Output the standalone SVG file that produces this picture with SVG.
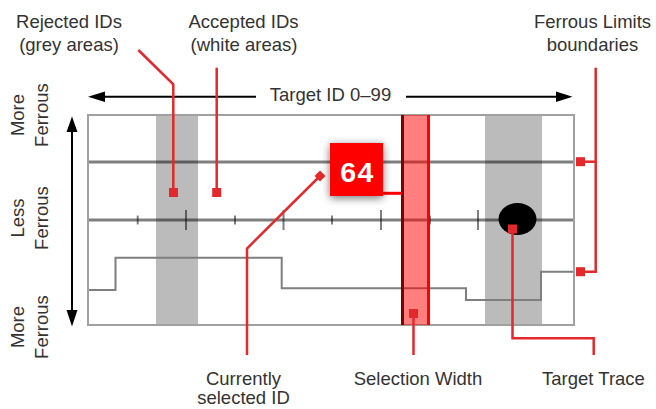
<svg xmlns="http://www.w3.org/2000/svg" width="656" height="409" viewBox="0 0 656 409">
<defs>
<style>
.lbl{font-family:"Liberation Sans",Arial,sans-serif;font-size:18.5px;fill:#333;text-anchor:middle}
.con{fill:none;stroke:#e3292b;stroke-width:2.5}
.sq{fill:#e3292b}
.ax{stroke:#000;stroke-opacity:0.5;stroke-width:3}
.tk{stroke:#000;stroke-opacity:0.5;stroke-width:2}
</style>
<filter id="sh" x="-50%" y="-50%" width="200%" height="200%">
<feDropShadow dx="0" dy="2" stdDeviation="4" flood-color="#000" flood-opacity="0.55"/>
</filter>
<filter id="soft" x="-20%" y="-20%" width="140%" height="140%">
<feGaussianBlur stdDeviation="0.7"/>
</filter>
</defs>

<g id="labels-top">
<text class="lbl" x="69" y="28">Rejected IDs</text>
<text class="lbl" x="69" y="51">(grey areas)</text>
<text class="lbl" x="243.5" y="28">Accepted IDs</text>
<text class="lbl" x="244" y="51">(white areas)</text>
<text class="lbl" x="592.5" y="28">Ferrous Limits</text>
<text class="lbl" x="592.5" y="51">boundaries</text>
</g>

<g id="target-id-axis">
<text class="lbl" x="330.5" y="101">Target ID 0–99</text>
<line x1="103" y1="96.7" x2="256" y2="96.7" stroke="#000" stroke-width="2"/>
<polygon points="88,96.7 105,91.5 105,101.9" fill="#000"/>
<line x1="406" y1="96.7" x2="558" y2="96.7" stroke="#000" stroke-width="2"/>
<polygon points="572.5,96.7 556,91.5 556,101.9" fill="#000"/>
</g>

<g id="ferrous-axis">
<text class="lbl" transform="translate(24,115) rotate(-90)" x="0" y="0">More</text>
<text class="lbl" transform="translate(47.5,115) rotate(-90)" x="0" y="0">Ferrous</text>
<text class="lbl" transform="translate(24,218) rotate(-90)" x="0" y="0">Less</text>
<text class="lbl" transform="translate(47.5,218) rotate(-90)" x="0" y="0">Ferrous</text>
<text class="lbl" transform="translate(24,327) rotate(-90)" x="0" y="0">More</text>
<text class="lbl" transform="translate(47.5,327) rotate(-90)" x="0" y="0">Ferrous</text>
<line x1="72" y1="130" x2="72" y2="312" stroke="#000" stroke-width="2"/>
<polygon points="72,116.5 66.5,132 77.5,132" fill="#000"/>
<polygon points="72,326.5 66.5,310 77.5,310" fill="#000"/>
</g>

<g id="chart">
<rect x="88" y="115" width="486" height="210" fill="#fff"/>
<rect id="reject-band-1" x="156" y="115" width="42" height="210" fill="#bbb"/>
<rect id="reject-band-2" x="485" y="115" width="57" height="210" fill="#bbb"/>
<line class="ax" x1="88" y1="162" x2="574" y2="162"/>
<line class="ax" x1="88" y1="220" x2="574" y2="220"/>
<g id="ticks">
<line class="tk" x1="137.7" y1="215.5" x2="137.7" y2="224.5"/>
<line class="tk" x1="186" y1="210" x2="186" y2="230"/>
<line class="tk" x1="235" y1="215.5" x2="235" y2="224.5"/>
<line class="tk" x1="283.5" y1="210" x2="283.5" y2="230"/>
<line class="tk" x1="332" y1="215.5" x2="332" y2="224.5"/>
<line class="tk" x1="381" y1="210" x2="381" y2="230"/>
<line class="tk" x1="430" y1="215.5" x2="430" y2="224.5"/>
<line class="tk" x1="478" y1="210" x2="478" y2="230"/>
</g>
<polyline id="limit-trace" points="88,290 115.5,290 115.5,257.7 281.7,257.7 281.7,288.3 466,288.3 466,300 541,300 541,271.7 574,271.7" fill="none" stroke="#7f7f7f" stroke-width="2"/>
<rect x="88" y="115" width="486" height="210" fill="none" stroke="#a0a0a0" stroke-width="2"/>
</g>

<g id="selection">
<rect x="402" y="115" width="27" height="210" fill="#ff0000" fill-opacity="0.5"/>
<line x1="402.5" y1="115" x2="402.5" y2="325" stroke="#800000" stroke-width="3"/>
<line x1="428.5" y1="115" x2="428.5" y2="325" stroke="#ff0000" stroke-width="3"/>
</g>

<g id="target-blob">
<ellipse cx="517.5" cy="219" rx="19" ry="16" fill="#000" filter="url(#soft)"/>
</g>

<g id="connectors">
<polyline class="con" points="138.3,50 173.3,84.3 173.3,192"/>
<rect class="sq" x="169" y="188" width="9" height="9"/>
<polyline class="con" points="216.7,67.7 216.7,192"/>
<rect class="sq" x="212.2" y="188" width="9" height="9"/>
<polyline class="con" points="595.7,67.7 595.7,271.7 580,271.7"/>
<line class="con" x1="595.7" y1="161.7" x2="580" y2="161.7"/>
<rect class="sq" x="576" y="157.2" width="9" height="9"/>
<rect class="sq" x="576" y="267.2" width="9" height="9"/>
<polyline class="con" points="320,176 247,248.5 247,355"/>
<polygon class="sq" points="320,170.5 325.5,176 320,181.5 314.5,176"/>
<line class="con" x1="413.5" y1="313" x2="413.5" y2="355"/>
<rect class="sq" x="409" y="309" width="9" height="9"/>
<polyline class="con" points="512.5,229 512.5,338.3 593.7,338.3 593.7,355"/>
<rect class="sq" x="508" y="224.5" width="9" height="9"/>
<line x1="383" y1="193.3" x2="402" y2="193.3" stroke="#ff0000" stroke-width="3"/>
</g>

<g id="id-badge">
<rect x="330" y="143" width="53" height="53" fill="#ff0000" filter="url(#sh)"/>
<text x="357.5" y="182" font-family="Liberation Sans, Arial, sans-serif" font-weight="bold" font-size="28.5" fill="#fff" text-anchor="middle" letter-spacing="1.5">64</text>
</g>

<g id="labels-bottom">
<text class="lbl" x="243.5" y="385">Currently</text>
<text class="lbl" x="243.5" y="404">selected ID</text>
<text class="lbl" x="418" y="385">Selection Width</text>
<text class="lbl" x="593.5" y="385">Target Trace</text>
</g>
</svg>
